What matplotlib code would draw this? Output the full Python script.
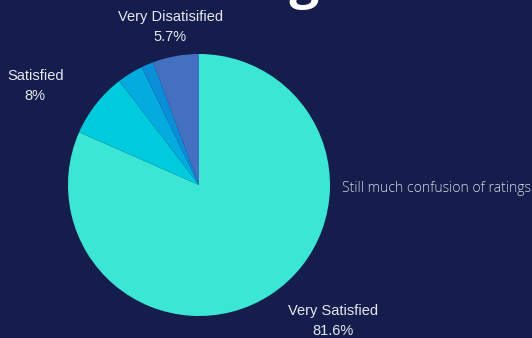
import matplotlib.pyplot as plt

# rating shares (%), clockwise from 12 o'clock
categories = ["Very Satisfied", "Satisfied", "Neutral", "Dissatisfied", "Very Disatisified"]
shares = [81.6, 8.0, 3.2, 1.5, 5.7]
colors = ["#3ce6d5", "#00cbdc", "#04abde", "#0a8ed8", "#4470c2"]
shown = ["Very Satisfied", "Satisfied", "Very Disatisified"]
note = "Still much confusion of ratings"

bg = "#141d4b"
W, H = 532, 338

fig = plt.figure(figsize=(W / 100, H / 100), dpi=100, facecolor=bg)
ax = fig.add_axes([0, 0, 1, 1])
ax.set_facecolor(bg)

cx, cy, r = 199, H - 185, 131
ax.pie(shares, colors=colors, startangle=90, counterclock=False,
       center=(cx, cy), radius=r, frame=True,
       wedgeprops=dict(linewidth=0))
ax.set_xlim(0, W)
ax.set_ylim(0, H)
ax.set_aspect("equal")
ax.axis("off")

# outside label spots, in units of the radius from the centre
label_pos = {"Very Satisfied": (1.02, -1.035),
             "Satisfied": (-1.25, 0.755),
             "Very Disatisified": (-0.22, 1.205)}
for name, val in zip(categories, shares):
    if name not in shown:
        continue
    dx, dy = label_pos[name]
    ax.text(cx + dx * r, cy + dy * r, f"{name}\n{val:g}%", ha="center", va="center",
            color="#e6e8f2", fontsize=10.5, family="Liberation Sans", linespacing=1.55)

ax.text(342, H - 189, note, ha="left", va="center", color="#d3d7e4",
        fontsize=10.1, family="Open Sans", fontweight="light")

# big title, only its descender shows at the top edge
ax.text(320, H + 3, "Rating", ha="right", va="baseline", color="white",
        fontsize=38, family="Open Sans", fontweight="bold")

fig.savefig("out.png", dpi=100, facecolor=bg)
